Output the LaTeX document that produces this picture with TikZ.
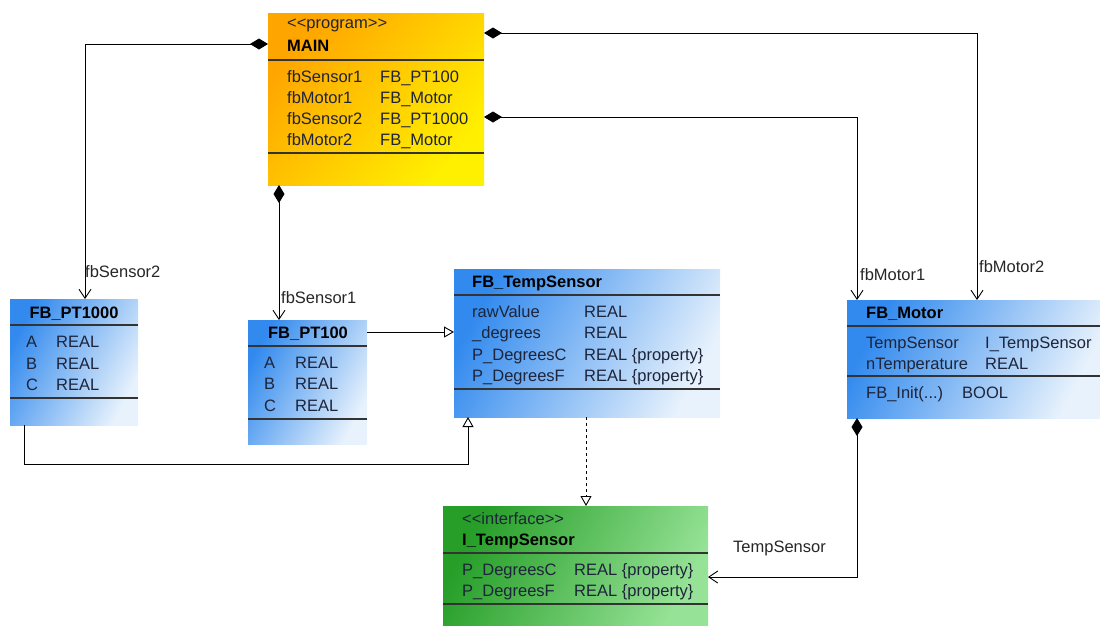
\documentclass[tikz,border=0pt]{standalone}
\usepackage{fontspec}
\setmainfont{Liberation Sans}
\usetikzlibrary{arrows.meta,calc}

\definecolor{progA}{RGB}{255,165,0}
\definecolor{progB}{RGB}{255,240,0}
\definecolor{fbA}{RGB}{50,138,238}
\definecolor{fbB}{RGB}{232,242,252}
\definecolor{ifA}{RGB}{38,158,40}
\definecolor{ifB}{RGB}{150,226,150}
\definecolor{txt}{RGB}{30,36,58}

\newcommand{\stereo}[1]{<\kern0pt<#1>\kern0pt>}

\tikzset{
  box/.style={anchor=north west, inner sep=0pt, outer sep=0pt, shading=axis},
  progbox/.style={box, left color=progA, right color=progB, shading angle=50},
  fbbox/.style={box, left color=fbA, right color=fbB, shading angle=62},
  ifbox/.style={box, left color=ifA, right color=ifB, shading angle=62},
  sepline/.style={line width=1.2pt, black!80},
  head/.style={anchor=base west, inner sep=0pt, font=\fontsize{16.5}{20}\selectfont\bfseries},
  item/.style={anchor=base west, inner sep=0pt, text=txt, font=\fontsize{16.5}{20}\selectfont},
  lbl/.style={anchor=base west, inner sep=0pt, text=black!85, font=\fontsize{16.5}{20}\selectfont},
  link/.style={line width=0.9pt},
  comp/.style={link, {Diamond[length=18pt,width=11pt]}-{Straight Barb[length=9pt,width=12pt]}},
  inherit/.style={link, -{Triangle[open,length=10pt,width=11pt]}},
  realize/.style={inherit, dash pattern=on 3pt off 3pt}
}

\begin{document}
\begin{tikzpicture}[x=1pt, y=-1pt]
  \useasboundingbox (0,0) rectangle (1100,625);

  % MAIN program
  \node[progbox, minimum width=216pt, minimum height=172pt] (main) at (268,13) {};
  \node[item] (main-st) at (287,28) {\stereo{program}};
  \node[head] (main-name) at (287,51) {MAIN};
  \foreach \y/\n/\t in {82/fbSensor1/FB\_PT100, 103/fbMotor1/FB\_Motor,
                        124/fbSensor2/FB\_PT1000, 145/fbMotor2/FB\_Motor} {
    \node[item] (main-\n) at (287,\y) {\n};
    \node[item] (main-\n-t) at (380,\y) {\t};
  }

  % FB_PT1000
  \node[fbbox, minimum width=128pt, minimum height=126pt] (pt1000) at (10,299) {};
  \node[head, anchor=base] (pt1000-name) at (74,318) {FB\_PT1000};
  \foreach \y/\v in {347/A, 369/B, 390/C} {
    \node[item] (pt1000-\v) at (26,\y) {\v};
    \node[item] (pt1000-\v-t) at (56,\y) {REAL};
  }

  % FB_PT100
  \node[fbbox, minimum width=119pt, minimum height=124pt] (pt100) at (248,320) {};
  \node[head, anchor=base] (pt100-name) at (308,338) {FB\_PT100};
  \foreach \y/\v in {368/A, 389/B, 411/C} {
    \node[item] (pt100-\v) at (264,\y) {\v};
    \node[item] (pt100-\v-t) at (295,\y) {REAL};
  }

  % FB_TempSensor
  \node[fbbox, minimum width=266pt, minimum height=148pt] (temp) at (454,269) {};
  \node[head] (temp-name) at (472,287) {FB\_TempSensor};
  \foreach \y/\n/\t in {317/rawValue/REAL, 338/\_degrees/REAL,
                        360/P\_DegreesC/REAL \{property\}, 381/P\_DegreesF/REAL \{property\}} {
    \node[item] (temp-\y) at (472,\y) {\n};
    \node[item] (temp-\y-t) at (584,\y) {\t};
  }

  % FB_Motor
  \node[fbbox, minimum width=253pt, minimum height=118pt] (motor) at (847,300) {};
  \node[head] (motor-name) at (866,318) {FB\_Motor};
  \node[item] (motor-a) at (866,348) {TempSensor};
  \node[item] (motor-a-t) at (985,348) {I\_TempSensor};
  \node[item] (motor-b) at (866,369) {nTemperature};
  \node[item] (motor-b-t) at (985,369) {REAL};
  \node[item] (motor-m) at (866,398) {FB\_Init(...)};
  \node[item] (motor-m-t) at (962,398) {BOOL};

  % I_TempSensor interface
  \node[ifbox, minimum width=265pt, minimum height=119pt] (itemp) at (443,506) {};
  \node[item] (itemp-st) at (462,524) {\stereo{interface}};
  \node[head] (itemp-name) at (462,545) {I\_TempSensor};
  \node[item] (itemp-c) at (462,575) {P\_DegreesC};
  \node[item] (itemp-c-t) at (574,575) {REAL \{property\}};
  \node[item] (itemp-f) at (462,596) {P\_DegreesF};
  \node[item] (itemp-f-t) at (574,596) {REAL \{property\}};

  % compartment lines
  \foreach \b/\d in {main/47, main/140, pt1000/26, pt1000/99, pt100/26, pt100/99,
                     temp/26, temp/120, motor/26, motor/76, itemp/47, itemp/98}
    \draw[sepline] ([yshift=-\d pt]\b.north west) -- ([yshift=-\d pt]\b.north east);

  % composition links out of MAIN
  \draw[comp] ([yshift=-31pt]main.north west) -| ([xshift=75pt]pt1000.north west);
  \draw[comp] ([xshift=11pt]main.south west) -- ([xshift=31pt]pt100.north west);
  \draw[comp] ([yshift=-20pt]main.north east) -| ([xshift=130pt]motor.north west);
  \draw[comp] ([yshift=-104pt]main.north east) -| ([xshift=10pt]motor.north west);
  \node[lbl] (l-sensor2) at (85,277) {fbSensor2};
  \node[lbl] (l-sensor1) at (281,303) {fbSensor1};
  \node[lbl] (l-motor1) at (860,280) {fbMotor1};
  \node[lbl] (l-motor2) at (979,272) {fbMotor2};

  % inheritance and realization
  \draw[inherit] ([yshift=-12pt]pt100.north east) -- ($(temp.north west)+(0,63)$);
  \draw[inherit] ([xshift=14pt]pt1000.south west) -- ++(0,39)
    -| ([xshift=14pt]temp.south west);
  \draw[realize] ([xshift=132pt]temp.south west) -- ([xshift=143pt]itemp.north west);

  % FB_Motor holds the interface
  \draw[comp] ([xshift=10pt]motor.south west) |- ([yshift=-71pt]itemp.north east);
  \node[lbl] (l-temp) at (733,552) {TempSensor};
\end{tikzpicture}
\end{document}
